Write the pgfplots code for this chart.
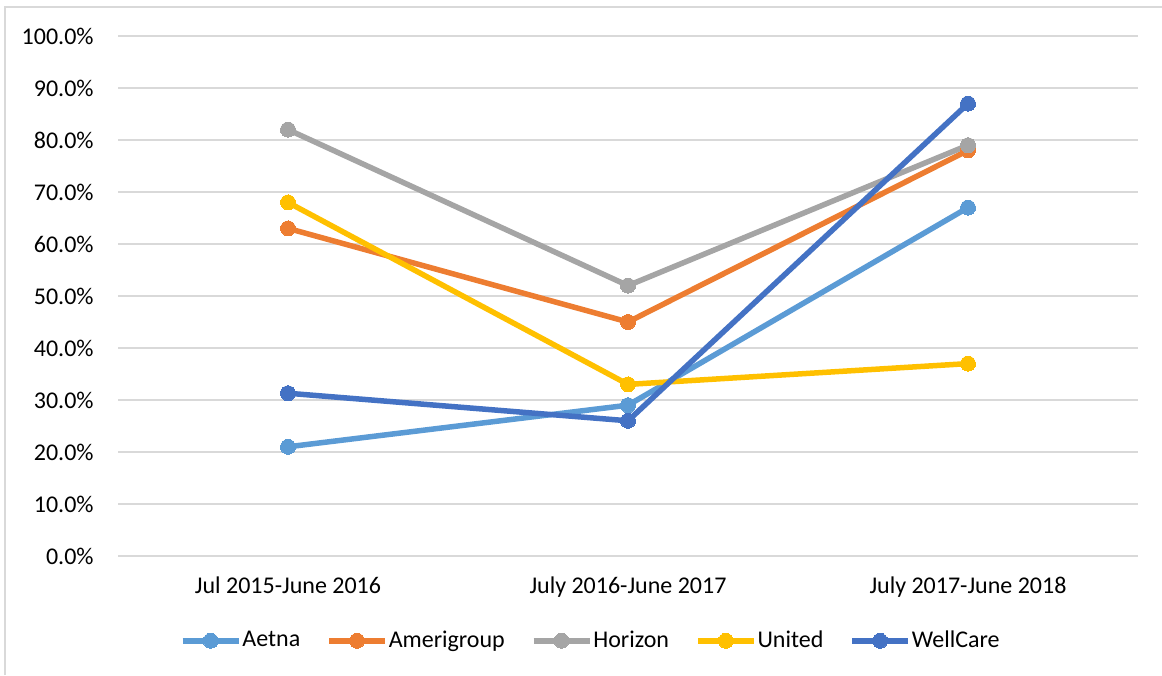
\documentclass[border=0pt]{standalone}
\usepackage{pgfplots}
\pgfplotsset{compat=1.18}
\usepackage{fontspec}
\setmainfont{Carlito}
\definecolor{aetna}{HTML}{5B9BD5}
\definecolor{amerigroup}{HTML}{ED7D31}
\definecolor{horizon}{HTML}{A5A5A5}
\definecolor{united}{HTML}{FFC000}
\definecolor{wellcare}{HTML}{4472C4}
\definecolor{gridgray}{HTML}{D9D9D9}
\begin{document}
\fontsize{12pt}{14pt}\selectfont
\begin{tikzpicture}
\useasboundingbox (0pt,0pt) rectangle (581pt,337.5pt);
\draw[gridgray, line width=0.75pt] (2.5pt,0pt) -- (2.5pt,334pt) -- (581pt,334pt);
\begin{axis}[
  at={(59pt,59.5pt)}, anchor=south west,
  scale only axis, width=510pt, height=260pt,
  xmin=-0.5, xmax=2.5, ymin=0, ymax=100,
  xtick={0,1,2},
  xticklabels={Jul 2015-June 2016, July 2016-June 2017, July 2017-June 2018},
  ytick={0,10,...,100},
  yticklabel={\pgfmathprintnumber[fixed,fixed zerofill,precision=1]{\tick}\%},
  /pgf/number format/assume math mode=true,
  ymajorgrids, grid style={gridgray, line width=0.75pt},
  axis line style={draw=none},
  major tick length=0pt,
  tick label style={font=\fontsize{12pt}{14pt}\selectfont, black},
  yticklabel style={xshift=-8pt},
  xticklabel style={yshift=-6pt},
  clip=false,
  legend columns=5,
  legend style={at={(0.463,-0.163)}, anchor=center, draw=none, fill=none,
    font=\fontsize{12pt}{14pt}\selectfont,
    /tikz/every even column/.append style={column sep=12.5pt},
    nodes={inner sep=0.5pt}},
  legend image code/.code={
    \draw[#1, mark repeat=2, mark phase=2] plot coordinates {(0pt,0pt) (14pt,0pt) (28pt,0pt)};
  },
  every axis plot/.append style={line width=2.75pt, mark=*, mark size=3.75pt},
]
\addplot[aetna, mark options={fill=aetna, draw=aetna, line width=0pt}] coordinates {(0,21.0) (1,29.0) (2,67.0)};
\addlegendentry{Aetna}
\addplot[amerigroup, mark options={fill=amerigroup, draw=amerigroup, line width=0pt}] coordinates {(0,63.0) (1,45.0) (2,78.0)};
\addlegendentry{Amerigroup}
\addplot[horizon, mark options={fill=horizon, draw=horizon, line width=0pt}] coordinates {(0,82.0) (1,52.0) (2,79.0)};
\addlegendentry{Horizon}
\addplot[united, mark options={fill=united, draw=united, line width=0pt}] coordinates {(0,68.0) (1,33.0) (2,37.0)};
\addlegendentry{United}
\addplot[wellcare, mark options={fill=wellcare, draw=wellcare, line width=0pt}] coordinates {(0,31.3) (1,26.0) (2,87.0)};
\addlegendentry{WellCare}
\end{axis}
\end{tikzpicture}
\end{document}
